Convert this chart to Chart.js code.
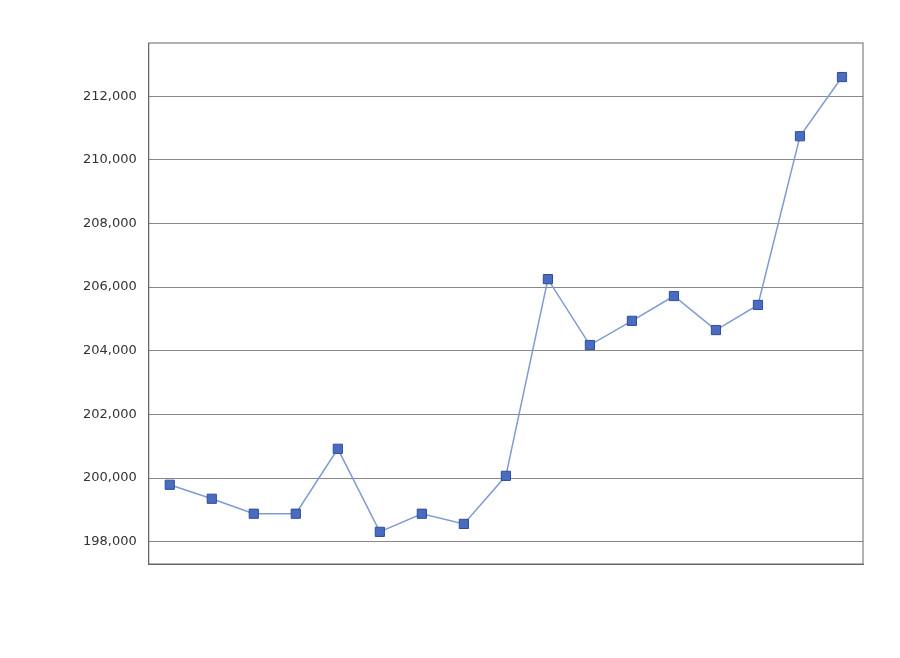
<!DOCTYPE html>
<html><head><meta charset="utf-8">
<script src="https://cdn.jsdelivr.net/npm/chart.js@4/dist/chart.umd.min.js"></script>
<style>html,body{margin:0;padding:0;background:#fff}#w{width:900px;height:658px;position:relative}</style>
</head><body><div id="w"><canvas id="c"></canvas></div>
<script>
const categories=["2025.12.01","2025.12.02","2025.12.03","2025.12.04","2025.12.05","2025.12.08","2025.12.09","2025.12.10","2025.12.11","2025.12.12","2025.12.15","2025.12.16","2025.12.17","2025.12.18","2025.12.19","2025.12.22","2025.12.23"];
const values=[199790,199350,198880,198880,200920,198310,198880,198560,200070,206250,204180,204940,205720,204650,205440,210740,212600];
const yTicks=[198000,200000,202000,204000,206000,208000,210000,212000];
new Chart(document.getElementById('c'),{type:'line',
data:{labels:categories,datasets:[{data:values,borderColor:'#7f9bd0',borderWidth:1.5,pointStyle:'rect',pointRadius:6.5,pointBackgroundColor:'#4a6cc0',pointBorderColor:'#2f4d99',pointBorderWidth:1,tension:0}]},
options:{responsive:true,maintainAspectRatio:false,animation:false,
layout:{padding:{left:71,top:43,right:37,bottom:64}},
plugins:{legend:{display:false},tooltip:{enabled:false}},
scales:{
x:{offset:true,afterFit:s=>{s.height=30},grid:{display:false},border:{color:'#666'},
ticks:{padding:-19,autoSkip:false,maxRotation:0,color:'#333',font:{family:'DejaVu Sans',size:13},
callback:(v,i)=> i%4===3?categories[i]:''}},
y:{min:197300,max:213670,afterBuildTicks:a=>{a.ticks=yTicks.map(v=>({value:v}))},
grid:{color:'#888',drawTicks:false},border:{color:'#666'},
ticks:{padding:12,color:'#333',font:{family:'DejaVu Sans',size:13},callback:v=>v.toLocaleString('en-US')}}
}},
plugins:[{id:'box',afterDraw(c){const a=c.chartArea,x=c.ctx;x.save();x.strokeStyle='#666';x.lineWidth=1;x.strokeRect(a.left,a.top,a.right-a.left,a.bottom-a.top);x.restore();}}]
});
</script></body></html>
